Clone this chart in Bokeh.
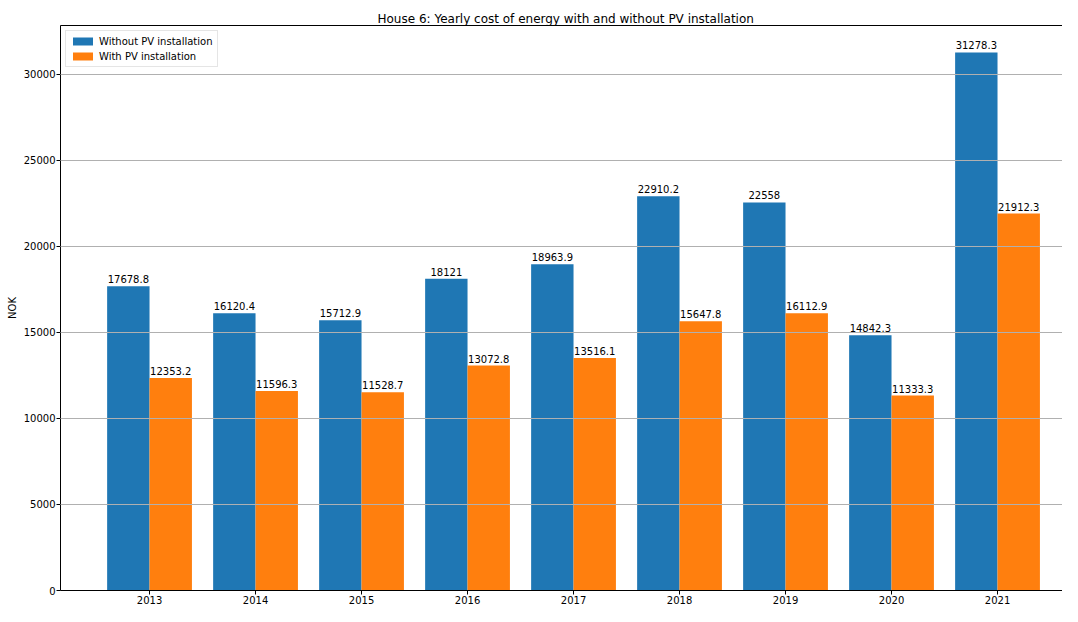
from bokeh.plotting import figure
from bokeh.models import (ColumnDataSource, Range1d, FixedTicker, LinearAxis,
                          Legend, LegendItem)
from bokeh.transform import dodge
from bokeh.core.properties import value
from bokeh.embed import file_html
from bokeh.resources import INLINE

years = ["2013", "2014", "2015", "2016", "2017", "2018", "2019", "2020", "2021"]
without_pv = [17678.8, 16120.4, 15712.9, 18121.0, 18963.9, 22910.2, 22558.0, 14842.3, 31278.3]
with_pv = [12353.2, 11596.3, 11528.7, 13072.8, 13516.1, 15647.8, 16112.9, 11333.3, 21912.3]
y_ticks = [0, 5000, 10000, 15000, 20000, 25000, 30000]

FONT = "DejaVu Sans"
BLUE = "#1f77b4"
ORANGE = "#ff7f0e"

idx = list(range(len(years)))
src = ColumnDataSource(dict(
    x=idx,
    wo=without_pv,
    wi=with_pv,
    wo_lab=["{:g}".format(v) for v in without_pv],
    wi_lab=["{:g}".format(v) for v in with_pv],
))

ymax = max(without_pv) * 1.05
p = figure(width=1062, height=606, output_backend="svg", toolbar_location=None,
           x_range=Range1d(-0.84, 8.613), y_range=Range1d(0, ymax),
           min_border_left=60, min_border_right=0, min_border_top=25, min_border_bottom=0,
           title="House 6: Yearly cost of energy with and without PV installation")
p.title.text_font = FONT
p.title.text_font_size = "12px"
p.title.text_font_style = "normal"
p.title.text_color = "black"
p.title.align = "left"
p.title.offset = 317
p.title.standoff = 0

r1 = p.vbar(x=dodge("x", -0.2, range=p.x_range), top="wo", width=0.4, source=src,
            fill_color=BLUE, line_color=None)
r2 = p.vbar(x=dodge("x", 0.2, range=p.x_range), top="wi", width=0.4, source=src,
            fill_color=ORANGE, line_color=None)

p.text(x=dodge("x", -0.2, range=p.x_range), y="wo", text="wo_lab", source=src,
       text_align="center", text_baseline="bottom", y_offset=-3,
       text_font=value(FONT), text_font_size="10px", text_color="black")
p.text(x=dodge("x", 0.2, range=p.x_range), y="wi", text="wi_lab", source=src,
       text_align="center", text_baseline="bottom", y_offset=-3,
       text_font=value(FONT), text_font_size="10px", text_color="black")

p.xaxis.ticker = FixedTicker(ticks=idx)
p.xaxis.major_label_overrides = {i: y for i, y in enumerate(years)}
p.yaxis.ticker = FixedTicker(ticks=y_ticks)
p.yaxis.axis_label = "NOK"
for ax in (p.xaxis[0], p.yaxis[0]):
    ax.major_label_text_font = FONT
    ax.major_label_text_font_size = "10px"
    ax.major_label_text_color = "black"
    ax.axis_line_color = "black"
    ax.major_tick_line_color = "black"
    ax.major_tick_out = 4
    ax.major_tick_in = 0
    ax.minor_tick_line_color = None
    ax.major_label_standoff = 1
p.yaxis.axis_label_text_font = FONT
p.yaxis.axis_label_text_font_size = "10px"
p.yaxis.axis_label_text_font_style = "normal"
p.yaxis.axis_label_text_color = "black"
p.yaxis.axis_label_standoff = 3
p.yaxis.formatter.use_scientific = False

top_axis = LinearAxis(ticker=FixedTicker(ticks=[]), major_label_text_font_size="0px",
                      axis_line_color="black", major_tick_out=0, minor_tick_out=0,
                      major_tick_line_color=None, minor_tick_line_color=None)
p.add_layout(top_axis, "above")

p.outline_line_color = None
p.xgrid.grid_line_color = None
p.ygrid.grid_line_color = "#b0b0b0"
p.ygrid.grid_line_width = 1
p.ygrid.level = "annotation"

legend = Legend(items=[LegendItem(label="Without PV installation", renderers=[r1]),
                       LegendItem(label="With PV installation", renderers=[r2])],
                location="top_left", margin=5, padding=4, spacing=3,
                label_text_font=FONT, label_text_font_size="10px",
                label_text_color="black",
                label_height=12, glyph_height=10, glyph_width=25, label_standoff=4,
                border_line_color="#cccccc", background_fill_alpha=0.8)
p.add_layout(legend)

open("out.html", "w").write(file_html(p, INLINE))
